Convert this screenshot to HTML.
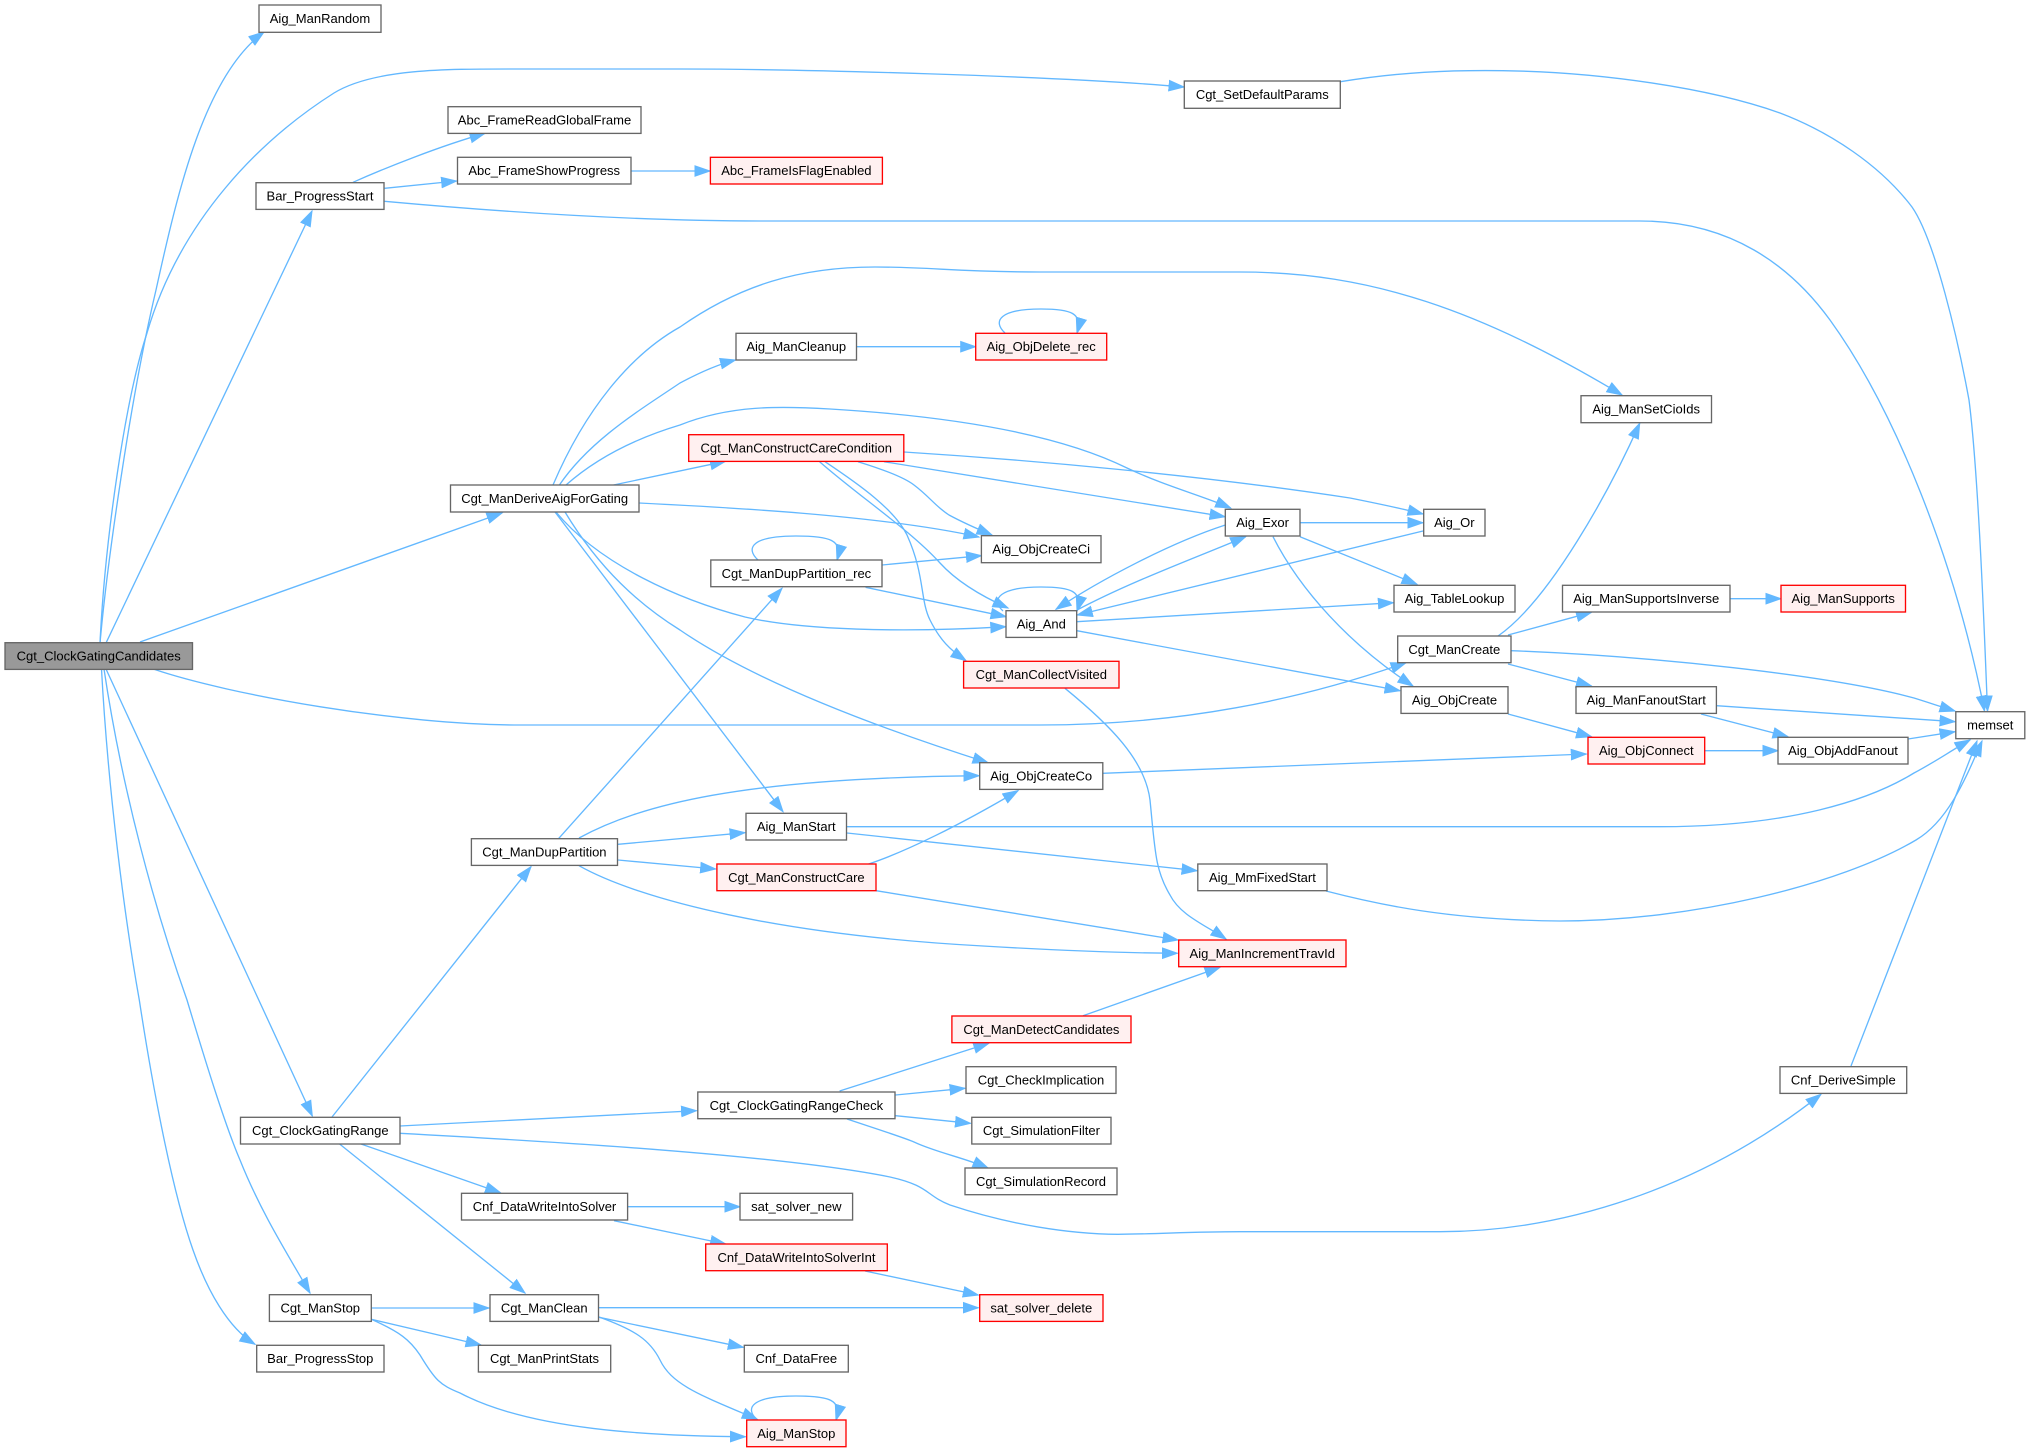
<!DOCTYPE html>
<html><head><meta charset="utf-8"><title>Cgt_ClockGatingCandidates call graph</title>
<style>
html,body{margin:0;padding:0;background:#fff;width:2030px;height:1452px;overflow:hidden}
svg{display:block}
.n rect{fill:#fff;stroke:#666;stroke-width:1.33}
.r rect{fill:#fff0f0;stroke:#f00;stroke-width:1.33}
.g rect{fill:#999;stroke:#666;stroke-width:1.33}
text{font-family:"Liberation Sans",Arial,sans-serif;font-size:13px;text-anchor:middle;fill:#000}
.e path{fill:none;stroke:#63b8ff;stroke-width:1.33;marker-end:url(#a)}
</style></head><body>
<svg xmlns="http://www.w3.org/2000/svg" width="2030" height="1452" viewBox="0 0 2030 1452">
<defs><marker id="a" markerUnits="userSpaceOnUse" markerWidth="17" markerHeight="13" refX="15.5" refY="6" orient="auto"><path d="M0.5,0.8 L15.5,6 L0.5,11.2 z" fill="#63b8ff" stroke="#63b8ff" stroke-width="1"/></marker></defs>
<g class="e">
<path d="M100,643 C107,565 130,400 156,290 C178,190 205,75 264,32"/>
<path d="M100,643 C105,540 125,400 147,333 C180,220 260,140 334,93 C375,68 450,69 520,69 L680,69 C800,69 1060,76 1184,87"/>
<path d="M106,643 L312,211"/>
<path d="M140,642 L502,513"/>
<path d="M154,669.3 C230,695 400,725 520,725 L1040,725 C1180,725 1300,700 1406,662.7"/>
<path d="M106,669 L312.3,1116"/>
<path d="M104,669 C122,790 155,910 187,1000 C205,1060 225,1125 240,1160 C260,1210 285,1250 310,1293"/>
<path d="M101.5,669 C108,790 125,920 139.3,1000 C150,1070 170,1185 193,1250 C207,1290 228,1328 255,1344.3"/>
<path d="M353,182.3 C385,168 440,146 485,133.3"/>
<path d="M384.6,188.3 L456.6,181"/>
<path d="M384.6,201.3 C480,210 620,221 760,221 L1640,221 C1730,221 1790,265 1830,320 C1895,410 1955,560 1984.5,711"/>
<path d="M1340.4,81.7 C1400,72 1450,70 1503,70.7 C1600,72 1710,88 1780,113 C1830,132 1880,165 1912,207 C1935,240 1958,340 1969,400 C1978,470 1984,620 1987.5,711"/>
<path d="M631,171 L710,171"/>
<path d="M553,485 C585,410 630,355 680,327 C740,285 800,267 875,267 C930,267 960,272 1040,272 L1240,272 C1370,272 1480,310 1622,395"/>
<path d="M559.4,485 C590,440 640,410 680,383 C695,375 715,365 735.5,360"/>
<path d="M566,485 C600,455 640,437 680,425 C730,405 780,406 830,409 C930,415 1050,430 1127,468 C1165,486 1200,495 1230.7,508"/>
<path d="M613.6,485 L725.5,461.3"/>
<path d="M639,503 C720,507 880,515 979,537"/>
<path d="M556,512 C600,565 680,600 745,617 C800,630 900,633 1005.8,626.7"/>
<path d="M555,512 L783,811.7"/>
<path d="M565,512 C600,570 640,605 680,630 C750,678 860,722 988,762.7"/>
<path d="M904,452 C1030,460 1200,475 1350,498 C1380,504 1400,508 1423,514"/>
<path d="M884,461.7 L1225,516.7"/>
<path d="M858,461.7 C885,470 905,478 914,485 C930,497 935,506 949,515 C962,522 980,530 992,535"/>
<path d="M819.6,461.7 C860,497 910,530 940,563 C960,585 990,600 1008,608"/>
<path d="M825,461.7 C860,485 895,510 907,535 C925,575 920,600 930,620 C940,640 950,650 966,660.7"/>
<path d="M758,560 C745,548 752,536 796,536 C830,536 843,540 837,560"/>
<path d="M882,565 L981.4,555.7"/>
<path d="M865.6,587.3 L1006,616.7"/>
<path d="M558.5,838.7 L782,588.3"/>
<path d="M856.5,346.7 L975.7,346.7"/>
<path d="M1005,333 C992,321 1000,309 1041,309 C1071,309 1083,313 1077,333"/>
<path d="M1003,611 C990,599 1000,587 1041,587 C1071,587 1083,591 1077,611"/>
<path d="M757.3,1420 C744,1408 752,1396 796,1396 C830,1396 842,1400 836,1420"/>
<path d="M1300,522.7 L1423,522.7"/>
<path d="M1300,536.7 L1417,584.3"/>
<path d="M1225.3,525 C1170,543 1100,580 1056,609.3"/>
<path d="M1077,610 C1130,582 1190,560 1245.7,536.7"/>
<path d="M1273,536.7 C1300,590 1350,645 1413,686"/>
<path d="M1423,531 L1077.3,615"/>
<path d="M1076.8,621.7 L1393.4,602.7"/>
<path d="M1076.8,630.7 L1400,690.7"/>
<path d="M1065,688.3 C1110,725 1145,760 1150,800 C1155,850 1155,870 1170,895 C1180,915 1205,925 1226,939"/>
<path d="M1498,636 C1550,600 1610,490 1639.7,423.3"/>
<path d="M1508,635 L1591.5,612.3"/>
<path d="M1511,650.7 C1650,656 1830,675 1914,698 C1930,703 1945,708 1955,711"/>
<path d="M1508,664 L1591.5,686"/>
<path d="M1716.4,705.7 L1955,721.7"/>
<path d="M1701,714 L1788,736.7"/>
<path d="M1508,714 L1591.5,736.7"/>
<path d="M1704.7,750.7 L1778,750.7"/>
<path d="M1908,739 L1955,731.7"/>
<path d="M1730,598.7 L1781,598.7"/>
<path d="M1102.8,773.3 L1586.3,754"/>
<path d="M846.5,826.7 L1660,826.7 C1790,826.7 1870,800 1914,773 C1935,762 1952,750 1970,740"/>
<path d="M847,833 L1197,870.7"/>
<path d="M868.6,864 C905,852 960,825 1018,790.7"/>
<path d="M876,890.7 L1178,940"/>
<path d="M1326,891 C1380,905 1450,920 1560,921 C1690,921 1840,885 1916,840 C1948,821 1965,780 1982,741"/>
<path d="M579,838 C640,805 740,778 979,775.7"/>
<path d="M618,844.3 L745,832.7"/>
<path d="M618,860 L715.6,869"/>
<path d="M579,865.7 C640,900 780,935 983,946 C1050,950 1120,953 1177.4,953.3"/>
<path d="M332,1117 L531,866.7"/>
<path d="M400,1126 L696.5,1110.7"/>
<path d="M400,1133.3 C560,1142 780,1155 890,1177 C930,1186 925,1195 950,1205 C1010,1225 1070,1234 1118,1234.3 C1160,1234 1190,1231.7 1240,1231.7 L1440,1231.7 C1560,1231.7 1700,1190 1821,1094.3"/>
<path d="M361,1144 L500.5,1192.7"/>
<path d="M339.6,1144 L525,1293"/>
<path d="M839.6,1091 L988.8,1043.3"/>
<path d="M895.5,1095 L965,1088.3"/>
<path d="M895.5,1115.7 L970.5,1123.3"/>
<path d="M847,1119 C880,1130 905,1138 914,1142 C935,1152 965,1158 988,1168"/>
<path d="M1083,1015.7 L1220,967.3"/>
<path d="M627.6,1206.7 L740,1206.7"/>
<path d="M614,1220.7 L725.6,1244"/>
<path d="M865,1271 L978.3,1295"/>
<path d="M598.5,1307.7 L978.3,1307.7"/>
<path d="M599,1317.3 L743.3,1347.3"/>
<path d="M599,1317 C635,1330 650,1340 660,1360 C672,1385 700,1395 757.3,1419.3"/>
<path d="M371.3,1308 L489,1308"/>
<path d="M371.3,1319.3 L481,1345"/>
<path d="M371.3,1319.3 C400,1332 410,1340 420,1355 C435,1380 440,1385 460,1393 C530,1430 650,1436 745.5,1436.7"/>
<path d="M1851,1066 L1977,741"/>
</g>
<g class="g"><rect x="5" y="642.7" width="187.5" height="26.7"/><text x="98.7" y="660.5">Cgt_ClockGatingCandidates</text></g>
<g class="n"><rect x="259" y="5" width="122" height="27.3"/><text x="320" y="23">Aig_ManRandom</text></g>
<g class="n"><rect x="448" y="106.7" width="193" height="26.7"/><text x="544.5" y="124.5">Abc_FrameReadGlobalFrame</text></g>
<g class="n"><rect x="457.5" y="157.3" width="173.5" height="26.7"/><text x="544.2" y="175.2">Abc_FrameShowProgress</text></g>
<g class="n"><rect x="256" y="182.7" width="128" height="26.7"/><text x="320" y="200.5">Bar_ProgressStart</text></g>
<g class="n"><rect x="450.5" y="485" width="188.5" height="27"/><text x="544.7" y="503">Cgt_ManDeriveAigForGating</text></g>
<g class="n"><rect x="1184.3" y="81" width="156" height="27.3"/><text x="1262.3" y="99">Cgt_SetDefaultParams</text></g>
<g class="r"><rect x="710.4" y="157.3" width="172" height="26.7"/><text x="796.4" y="175.2">Abc_FrameIsFlagEnabled</text></g>
<g class="n"><rect x="736" y="333.3" width="120.5" height="26.7"/><text x="796.2" y="351.2">Aig_ManCleanup</text></g>
<g class="r"><rect x="975.7" y="333.3" width="131" height="26.7"/><text x="1041.2" y="351.2">Aig_ObjDelete_rec</text></g>
<g class="r"><rect x="688.7" y="434.7" width="215.1" height="26.7"/><text x="796.2" y="452.5">Cgt_ManConstructCareCondition</text></g>
<g class="n"><rect x="981.4" y="535.7" width="119.6" height="27"/><text x="1041.2" y="553.7">Aig_ObjCreateCi</text></g>
<g class="n"><rect x="710.8" y="560" width="171.2" height="26.7"/><text x="796.4" y="577.8">Cgt_ManDupPartition_rec</text></g>
<g class="n"><rect x="1006" y="610.7" width="70.7" height="26.7"/><text x="1041.3" y="628.5">Aig_And</text></g>
<g class="n"><rect x="1225.3" y="509.3" width="74.7" height="26.7"/><text x="1262.6" y="527.1">Aig_Exor</text></g>
<g class="r"><rect x="963.6" y="661.3" width="155.4" height="26.7"/><text x="1041.3" y="679.2">Cgt_ManCollectVisited</text></g>
<g class="n"><rect x="1581" y="395.7" width="130.5" height="27"/><text x="1646.2" y="413.7">Aig_ManSetCioIds</text></g>
<g class="n"><rect x="1423.7" y="509.3" width="61.3" height="26.7"/><text x="1454.3" y="527.2">Aig_Or</text></g>
<g class="n"><rect x="1394" y="585.3" width="121" height="26.7"/><text x="1454.5" y="603.2">Aig_TableLookup</text></g>
<g class="n"><rect x="1562.5" y="585.3" width="167.5" height="26.7"/><text x="1646.2" y="603.2">Aig_ManSupportsInverse</text></g>
<g class="r"><rect x="1781" y="585.3" width="124.5" height="26.7"/><text x="1843.2" y="603.2">Aig_ManSupports</text></g>
<g class="n"><rect x="1397.7" y="636" width="113.3" height="26.7"/><text x="1454.3" y="653.8">Cgt_ManCreate</text></g>
<g class="n"><rect x="1401" y="686.7" width="107" height="26.7"/><text x="1454.5" y="704.5">Aig_ObjCreate</text></g>
<g class="n"><rect x="1576" y="686.7" width="140.4" height="26.7"/><text x="1646.2" y="704.5">Aig_ManFanoutStart</text></g>
<g class="r"><rect x="1588" y="737.3" width="116.7" height="26.7"/><text x="1646.3" y="755.2">Aig_ObjConnect</text></g>
<g class="n"><rect x="1778" y="737.3" width="130" height="26.7"/><text x="1843" y="755.2">Aig_ObjAddFanout</text></g>
<g class="n"><rect x="1955.8" y="711.7" width="69" height="27"/><text x="1990.3" y="729.7">memset</text></g>
<g class="n"><rect x="471.4" y="838.7" width="146.1" height="26.7"/><text x="544.4" y="856.5">Cgt_ManDupPartition</text></g>
<g class="n"><rect x="979.7" y="762.7" width="123.1" height="26.7"/><text x="1041.2" y="780.5">Aig_ObjCreateCo</text></g>
<g class="n"><rect x="746" y="813.3" width="100.5" height="26.7"/><text x="796.2" y="831.2">Aig_ManStart</text></g>
<g class="r"><rect x="716.9" y="864" width="159.1" height="26.7"/><text x="796.4" y="881.8">Cgt_ManConstructCare</text></g>
<g class="n"><rect x="1197.8" y="864" width="129.2" height="26.7"/><text x="1262.4" y="881.8">Aig_MmFixedStart</text></g>
<g class="r"><rect x="1178.7" y="940" width="167.3" height="26.7"/><text x="1262.3" y="957.8">Aig_ManIncrementTravId</text></g>
<g class="r"><rect x="951.9" y="1016" width="179.1" height="26.7"/><text x="1041.4" y="1033.8">Cgt_ManDetectCandidates</text></g>
<g class="n"><rect x="966" y="1066.7" width="150" height="26.7"/><text x="1041" y="1084.5">Cgt_CheckImplication</text></g>
<g class="n"><rect x="697.8" y="1092" width="197.2" height="26.7"/><text x="796.4" y="1109.8">Cgt_ClockGatingRangeCheck</text></g>
<g class="n"><rect x="971.8" y="1117.3" width="139.2" height="26.7"/><text x="1041.4" y="1135.2">Cgt_SimulationFilter</text></g>
<g class="n"><rect x="965" y="1168" width="152" height="26.7"/><text x="1041" y="1185.8">Cgt_SimulationRecord</text></g>
<g class="n"><rect x="740" y="1193.3" width="112.6" height="26.7"/><text x="796.3" y="1211.2">sat_solver_new</text></g>
<g class="n"><rect x="240.5" y="1117.3" width="159.5" height="26.7"/><text x="320.3" y="1135.2">Cgt_ClockGatingRange</text></g>
<g class="n"><rect x="1780" y="1066.7" width="126.7" height="26.7"/><text x="1843.3" y="1084.5">Cnf_DeriveSimple</text></g>
<g class="n"><rect x="461.5" y="1193.3" width="166.1" height="26.7"/><text x="544.5" y="1211.2">Cnf_DataWriteIntoSolver</text></g>
<g class="r"><rect x="705.7" y="1244" width="181.6" height="26.7"/><text x="796.5" y="1261.8">Cnf_DataWriteIntoSolverInt</text></g>
<g class="n"><rect x="269.4" y="1294.7" width="101.9" height="26.7"/><text x="320.3" y="1312.5">Cgt_ManStop</text></g>
<g class="n"><rect x="490" y="1294.7" width="108.5" height="26.7"/><text x="544.2" y="1312.5">Cgt_ManClean</text></g>
<g class="r"><rect x="979.7" y="1294.7" width="123.3" height="26.7"/><text x="1041.3" y="1312.5">sat_solver_delete</text></g>
<g class="n"><rect x="256.7" y="1345.3" width="127.3" height="26.7"/><text x="320.3" y="1363.2">Bar_ProgressStop</text></g>
<g class="n"><rect x="478.4" y="1345.3" width="132.3" height="26.7"/><text x="544.5" y="1363.2">Cgt_ManPrintStats</text></g>
<g class="n"><rect x="744.3" y="1345.3" width="104" height="26.7"/><text x="796.3" y="1363.2">Cnf_DataFree</text></g>
<g class="r"><rect x="746.7" y="1420" width="99.3" height="26.7"/><text x="796.3" y="1437.8">Aig_ManStop</text></g>
</svg>
</body></html>
